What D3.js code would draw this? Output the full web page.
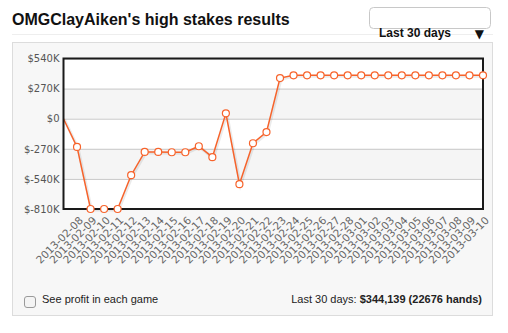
<!DOCTYPE html>
<html>
<head>
<meta charset="utf-8">
<script src="https://cdn.jsdelivr.net/npm/d3@7"></script>
<style>
  body { margin: 0; background: #fff; }
  svg { display: block; }
</style>
</head>
<body>
<svg width="508" height="333"></svg>
<script>
// Dates shown on the x axis (the first point is the unlabeled starting balance)
var dates = ['2013-02-08','2013-02-09','2013-02-10','2013-02-11','2013-02-12','2013-02-13',
    '2013-02-14','2013-02-15','2013-02-16','2013-02-17','2013-02-18','2013-02-19','2013-02-20',
    '2013-02-21','2013-02-22','2013-02-23','2013-02-24','2013-02-25','2013-02-26','2013-02-27',
    '2013-02-28','2013-03-01','2013-03-02','2013-03-03','2013-03-04','2013-03-05','2013-03-06',
    '2013-03-07','2013-03-08','2013-03-09','2013-03-10'];

// Cumulative profit in $K
var profit = [0, -253, -810, -810, -810, -507, -298, -298, -301, -301, -247, -345, 48, -587,
    -220, -120, 364, 389, 389, 389, 389, 389, 389, 389, 389, 389, 389, 389, 389, 389, 389, 389];

var yTicks = [-810, -540, -270, 0, 270, 540];

var svg = d3.select('svg');
var sans = 'Liberation Sans, Arial, Helvetica, sans-serif';
var lineColor = '#f7632b';

// Title
svg.append('text')
    .attr('x', 12).attr('y', 25)
    .attr('font-family', sans).attr('font-weight', 'bold').attr('font-size', 16)
    .attr('fill', '#111')
    .text("OMGClayAiken's high stakes results");

// Fake select box
svg.append('rect')
    .attr('x', 369.5).attr('y', 7.5).attr('width', 121).attr('height', 21).attr('rx', 4)
    .attr('fill', '#fff').attr('stroke', '#c8c8c8');
svg.append('line')
    .attr('x1', 12).attr('x2', 493).attr('y1', 34.5).attr('y2', 34.5)
    .attr('stroke', '#eeeeee');
svg.append('text')
    .attr('x', 379).attr('y', 37)
    .attr('font-family', sans).attr('font-weight', 'bold').attr('font-size', 12)
    .attr('fill', '#111')
    .text('Last 30 days');
svg.append('text')
    .attr('x', 484).attr('y', 37.5).attr('text-anchor', 'end')
    .attr('font-family', 'DejaVu Sans, sans-serif').attr('font-size', 12)
    .attr('fill', '#111')
    .text('▼');

// Panel
svg.append('rect')
    .attr('x', 12.5).attr('y', 42.5).attr('width', 480).attr('height', 273)
    .attr('fill', '#f7f7f7').attr('stroke', '#dcdcdc');

var x = d3.scaleLinear().domain([0, profit.length - 1]).range([63.5, 483]);
var y = d3.scaleLinear().domain([-810, 540]).range([209, 58.5]);

// Plot background and alternating bands
svg.append('rect')
    .attr('x', x(0)).attr('y', y(540))
    .attr('width', x(profit.length - 1) - x(0)).attr('height', y(-810) - y(540))
    .attr('fill', '#fff');

var bands = yTicks.slice(0, -1).filter(function(d, i) { return i % 2 === 1; });
svg.selectAll('.band')
    .data(bands)
    .enter().append('rect')
    .attr('class', 'band')
    .attr('x', x(0)).attr('width', x(profit.length - 1) - x(0))
    .attr('y', function(d) { return y(d + 270); })
    .attr('height', function(d) { return y(d) - y(d + 270); })
    .attr('fill', '#f5f5f5');

// Y axis with gridlines
var yAxis = svg.append('g')
    .attr('transform', 'translate(' + x(0) + ',0)')
    .call(d3.axisLeft(y)
        .tickValues(yTicks)
        .tickSize(-(x(profit.length - 1) - x(0)))
        .tickPadding(4)
        .tickFormat(function(d) { return d === 0 ? '$0' : '$' + d + 'K'; }));
yAxis.select('.domain').remove();
yAxis.selectAll('line').attr('stroke', '#c8c8c8');
yAxis.selectAll('text')
    .attr('font-family', 'DejaVu Sans, Verdana, sans-serif').attr('font-size', 10)
    .attr('fill', '#555');

// X axis labels
var xAxis = svg.append('g')
    .attr('transform', 'translate(0,' + y(-810) + ')')
    .call(d3.axisBottom(x)
        .tickValues(d3.range(1, profit.length))
        .tickSize(0)
        .tickFormat(function(d) { return dates[d - 1]; }));
xAxis.select('.domain').remove();
xAxis.selectAll('text')
    .attr('font-family', 'DejaVu Sans, Verdana, sans-serif').attr('font-size', 10.5)
    .attr('fill', '#666')
    .attr('text-anchor', 'end')
    .attr('dy', 0)
    .attr('transform', 'translate(4,10) rotate(-45)');

// Line with shadow
var line = d3.line()
    .x(function(d, i) { return x(i); })
    .y(function(d) { return y(d); });

svg.append('path')
    .datum(profit)
    .attr('d', line)
    .attr('transform', 'translate(1,1)')
    .attr('fill', 'none')
    .attr('stroke', 'rgba(0,0,0,0.08)')
    .attr('stroke-width', 3);

svg.append('path')
    .datum(profit)
    .attr('d', line)
    .attr('fill', 'none')
    .attr('stroke', lineColor)
    .attr('stroke-width', 1.5);

// Plot border
svg.append('rect')
    .attr('x', x(0)).attr('y', y(540))
    .attr('width', x(profit.length - 1) - x(0)).attr('height', y(-810) - y(540))
    .attr('fill', 'none').attr('stroke', '#1a1a1a').attr('stroke-width', 2);

svg.selectAll('.pt')
    .data(profit.slice(1))
    .enter().append('circle')
    .attr('class', 'pt')
    .attr('cx', function(d, i) { return x(i + 1); })
    .attr('cy', function(d) { return y(d); })
    .attr('r', 3.5)
    .attr('fill', '#fff')
    .attr('stroke', lineColor)
    .attr('stroke-width', 1.2);

// Footer
svg.append('rect')
    .attr('x', 24.5).attr('y', 296.5).attr('width', 11).attr('height', 11).attr('rx', 2.5)
    .attr('fill', '#f4f4f4').attr('stroke', '#9a9a9a');
svg.append('text')
    .attr('x', 42).attr('y', 303)
    .attr('font-family', sans).attr('font-size', 11).attr('fill', '#222')
    .text('See profit in each game');

var summary = svg.append('text')
    .attr('x', 482).attr('y', 303).attr('text-anchor', 'end')
    .attr('font-family', sans).attr('font-size', 11).attr('fill', '#222');
summary.append('tspan').text('Last 30 days: ');
summary.append('tspan').attr('font-weight', 'bold').text('$344,139 (22676 hands)');
</script>
</body>
</html>
